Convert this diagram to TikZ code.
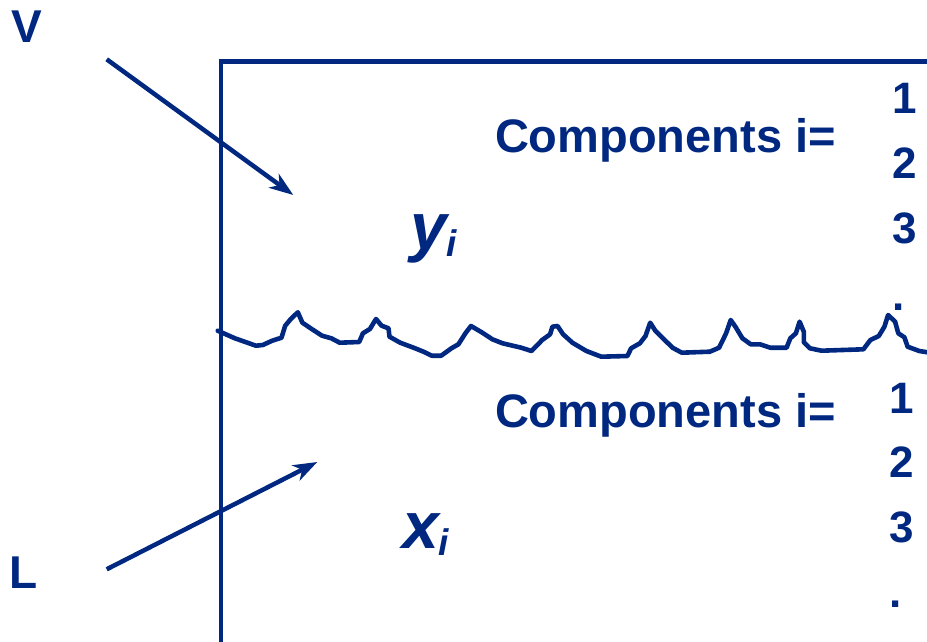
\documentclass[tikz,border=0pt]{standalone}
\usepackage{fontspec}
\setmainfont{Liberation Sans}
\usetikzlibrary{arrows.meta}
\definecolor{navy}{RGB}{0,40,128}
\tikzset{
  lbl/.style={anchor=base west, inner sep=0pt, outer sep=0pt, text=navy, font=\fontsize{46}{46}\selectfont\bfseries},
  comp/.style={anchor=base west, inner sep=0pt, outer sep=0pt, text=navy, font=\fontsize{47}{47}\selectfont\bfseries},
  num/.style={anchor=base west, inner sep=0pt, outer sep=0pt, text=navy, font=\fontsize{44}{44}\selectfont\bfseries},
  var/.style={anchor=base west, inner sep=0pt, outer sep=0pt, text=navy, font=\fontsize{66}{66}\selectfont\bfseries\itshape},
  wall/.style={draw=navy, line width=4.5pt},
  flow/.style={draw=navy, line width=4.5pt, -{Stealth[length=24pt,width=17pt,inset=7pt]}},
  wave/.style={draw=navy, line width=4.6pt, line join=round, line cap=round}
}
\newcommand{\subi}{\raisebox{-7pt}{\fontsize{37}{37}\selectfont i}}
\begin{document}
\begin{tikzpicture}[x=1pt,y=-1pt]
\useasboundingbox (0,0) rectangle (927,642);
% frame
\coordinate (fb) at (221,645);
\coordinate (fc) at (221,61.3);
\coordinate (fr) at (930,61.3);
\draw[wall] (fb) -- (fc) -- (fr);
% labels
\node[lbl] (V) at (12,43) {V};
\node[lbl] (L) at (9.6,588) {L};
% arrows
\coordinate (vs) at (106.7,59.3);
\coordinate (ve) at (293.3,195);
\coordinate (ls) at (106.7,569.3);
\coordinate (le) at (317.3,462);
\draw[flow] (vs) -- (ve);
\draw[flow] (ls) -- (le);
% texts
\node[comp] (c1) at (495,152.7) {Components i=};
\node[comp] (c2) at (495,427.7) {Components i=};
\node[var] (y) at (410,249) {y\subi};
\node[var] (x) at (402,548.3) {x\subi};
% numbers upper
\node[num] (u1) at (892,113.3) {1};
\node[num] (u2) at (892,178.3) {2};
\node[num] (u3) at (892,243.3) {3};
\node[num] (u4) at (892,310) {.};
% numbers lower
\node[num] (l1) at (889.5,413.3) {1};
\node[num] (l2) at (889.5,477.3) {2};
\node[num] (l3) at (889.5,542.7) {3};
\node[num] (l4) at (889.5,607) {.};
% interface wave
\draw[wave] (217.7,330.7) -- (234.9,338.3) -- (255.9,345.7) -- (262.8,345) -- (272.2,340.7) -- (281.5,337.7) -- (285.2,325.7) -- (290.8,319) -- (297.8,312.3) -- (302.4,322.7) -- (311.7,329) -- (322,335.7) -- (331.3,338.3) -- (339.7,342.7) -- (359.2,342) -- (362.9,333.3) -- (369.9,329) -- (376,319) -- (381.6,325.7) -- (388.5,328.3) -- (389.5,336.7) -- (400.2,342.7) -- (415.1,348.3) -- (423.5,351.7) -- (431.8,355.7) -- (441.2,355.7) -- (451.4,348.3) -- (458.4,344.3) -- (465.4,333.3) -- (471,326) -- (481.7,332.3) -- (492.4,339.3) -- (502.6,343.3) -- (521.2,347.7) -- (531.5,351) -- (542.2,340) -- (550.1,334.3) -- (552.4,326.7) -- (557.5,326) -- (563.1,334.3) -- (572.4,342.7) -- (586.4,351) -- (601.3,356.7) -- (627.4,356) -- (631.1,348.3) -- (639.9,343.3) -- (645.5,336) -- (650.2,322.7) -- (655.3,330.7) -- (672.5,347.7) -- (681.8,352.7) -- (709.8,351.7) -- (719.1,347.7) -- (726.1,333.3) -- (730.7,320) -- (735.4,326.7) -- (742.4,338.3) -- (750.7,344.3) -- (760,344.3) -- (770.3,347.7) -- (786.6,347.7) -- (790.3,338.3) -- (795.9,333.3) -- (799.6,321.7) -- (803.8,331.7) -- (803.8,342.3) -- (809.9,348.3) -- (821.5,350.7) -- (863.4,349.3) -- (870.4,340) -- (878.8,336) -- (884.4,326.7) -- (888.1,315) -- (895.1,321.7) -- (898.3,333.3) -- (904.4,337.3) -- (907.6,346.7) -- (919.3,351) -- (930,352.7);
\end{tikzpicture}
\end{document}
